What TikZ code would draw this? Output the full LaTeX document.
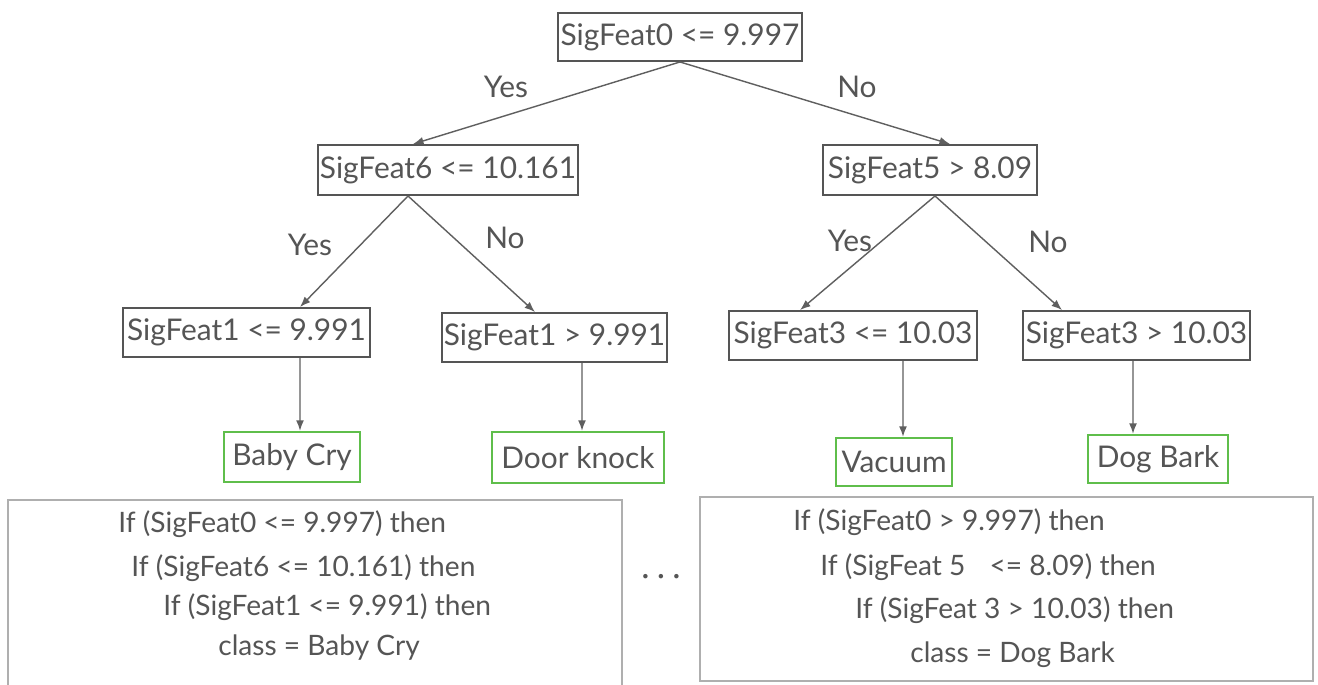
\documentclass[tikz,border=0pt]{standalone}
\usepackage{fontspec}
\setmainfont{Lato}
\usetikzlibrary{arrows.meta}
\definecolor{ink}{RGB}{85,85,85}
\definecolor{edgegray}{RGB}{95,95,95}
\definecolor{leafgreen}{RGB}{95,190,75}
\definecolor{framegray}{RGB}{175,175,175}
\tikzset{
  test/.style={draw=ink, line width=1.1pt, text=ink, font=\fontsize{17}{20}\selectfont, inner sep=0pt},
  leaf/.style={draw=leafgreen, line width=1.3pt, text=ink, font=\fontsize{17}{20}\selectfont, inner sep=0pt},
  conn/.style={draw=edgegray, line width=0.8pt, -{Latex[length=6pt,width=4.5pt]}},
  lbl/.style={text=ink, font=\fontsize{17}{20}\selectfont, inner sep=0pt},
  rule/.style={text=ink, font=\fontsize{16}{19}\selectfont, anchor=west, inner sep=0pt},
  panel/.style={draw=framegray, line width=0.8pt}
}
\begin{document}
\begin{tikzpicture}[x=0.02cm, y=-0.02cm]
  \useasboundingbox (0,0) rectangle (1318,684);
  \fill[white] (0,0) rectangle (1318,684);

  % split tests
  \node[test, minimum width=4.88cm, minimum height=0.96cm] (root) at (680,37) {SigFeat0 <= 9.997};
  \node[test, minimum width=5.2cm, minimum height=1.0cm] (a) at (448,170) {SigFeat6 <= 10.161};
  \node[test, minimum width=4.28cm, minimum height=1.0cm] (b) at (930,170) {SigFeat5 > 8.09};
  \node[test, minimum width=4.94cm, minimum height=0.98cm] (c) at (246.5,332.5) {SigFeat1 <= 9.991};
  \node[test, minimum width=4.5cm, minimum height=0.98cm] (d) at (554.5,337.5) {SigFeat1 > 9.991};
  \node[test, minimum width=4.96cm, minimum height=0.98cm] (e) at (853,335.5) {SigFeat3 <= 10.03};
  \node[test, minimum width=4.54cm, minimum height=0.98cm] (f) at (1136.5,335.5) {SigFeat3 > 10.03};

  % class leaves
  \node[leaf, minimum width=2.72cm, minimum height=1.0cm] (g) at (292,457) {Baby Cry};
  \node[leaf, minimum width=3.44cm, minimum height=1.02cm] (h) at (578,457.5) {Door knock};
  \node[leaf, minimum width=2.32cm, minimum height=0.96cm] (i) at (894,462) {Vacuum};
  \node[leaf, minimum width=2.8cm, minimum height=0.96cm] (j) at (1158,459) {Dog Bark};

  % branches
  \draw[conn] (root.south) -- ([xshift=-0.7cm]a.north);
  \draw[conn] (root.south) -- ([xshift=0.4cm]b.north);
  \draw[conn] ([xshift=-0.8cm]a.south) -- ([xshift=1.07cm]c.north);
  \draw[conn] ([xshift=-0.8cm]a.south) -- ([xshift=-0.39cm]d.north);
  \draw[conn] ([xshift=0.1cm]b.south) -- ([xshift=-1.06cm]e.north);
  \draw[conn] ([xshift=0.1cm]b.south) -- ([xshift=-1.49cm]f.north);
  \draw[conn] ([xshift=1.07cm]c.south) -- ([xshift=0.16cm]g.north);
  \draw[conn] ([xshift=0.55cm]d.south) -- ([xshift=0.08cm]h.north);
  \draw[conn] ([xshift=1.0cm]e.south) -- ([xshift=0.18cm]i.north);
  \draw[conn] ([xshift=-0.07cm]f.south) -- ([xshift=-0.5cm]j.north);

  % branch labels
  \node[lbl] (y0) at (506,87) {Yes};
  \node[lbl] (n0) at (857,87) {No};
  \node[lbl] (y1) at (310,245) {Yes};
  \node[lbl] (n1) at (505,238) {No};
  \node[lbl] (y2) at (850,241) {Yes};
  \node[lbl] (n2) at (1048,242) {No};

  % rule panels
  \draw[panel] (8,688) -- (8,500) -- (622,500) -- (622,688);
  \draw[panel] (700,497) rectangle (1313,681);

  \node[rule] (l1) at (118,524) {If (SigFeat0 <= 9.997) then};
  \node[rule] (l2) at (131,568) {If (SigFeat6 <= 10.161) then};
  \node[rule] (l3) at (163,607) {If (SigFeat1 <= 9.991) then};
  \node[rule] (l4) at (218,648) {class = Baby Cry};

  \node[rule] (r1) at (793,522) {If (SigFeat0 > 9.997) then};
  \node[rule] (r2) at (820,567) {If (SigFeat 5\hspace{0.6em} <= 8.09) then};
  \node[rule] (r3) at (855,610) {If (SigFeat 3 > 10.03) then};
  \node[rule] (r4) at (910,655) {class = Dog Bark};

  \node[lbl] (dots) at (661,580) {· · ·};
\end{tikzpicture}
\end{document}
